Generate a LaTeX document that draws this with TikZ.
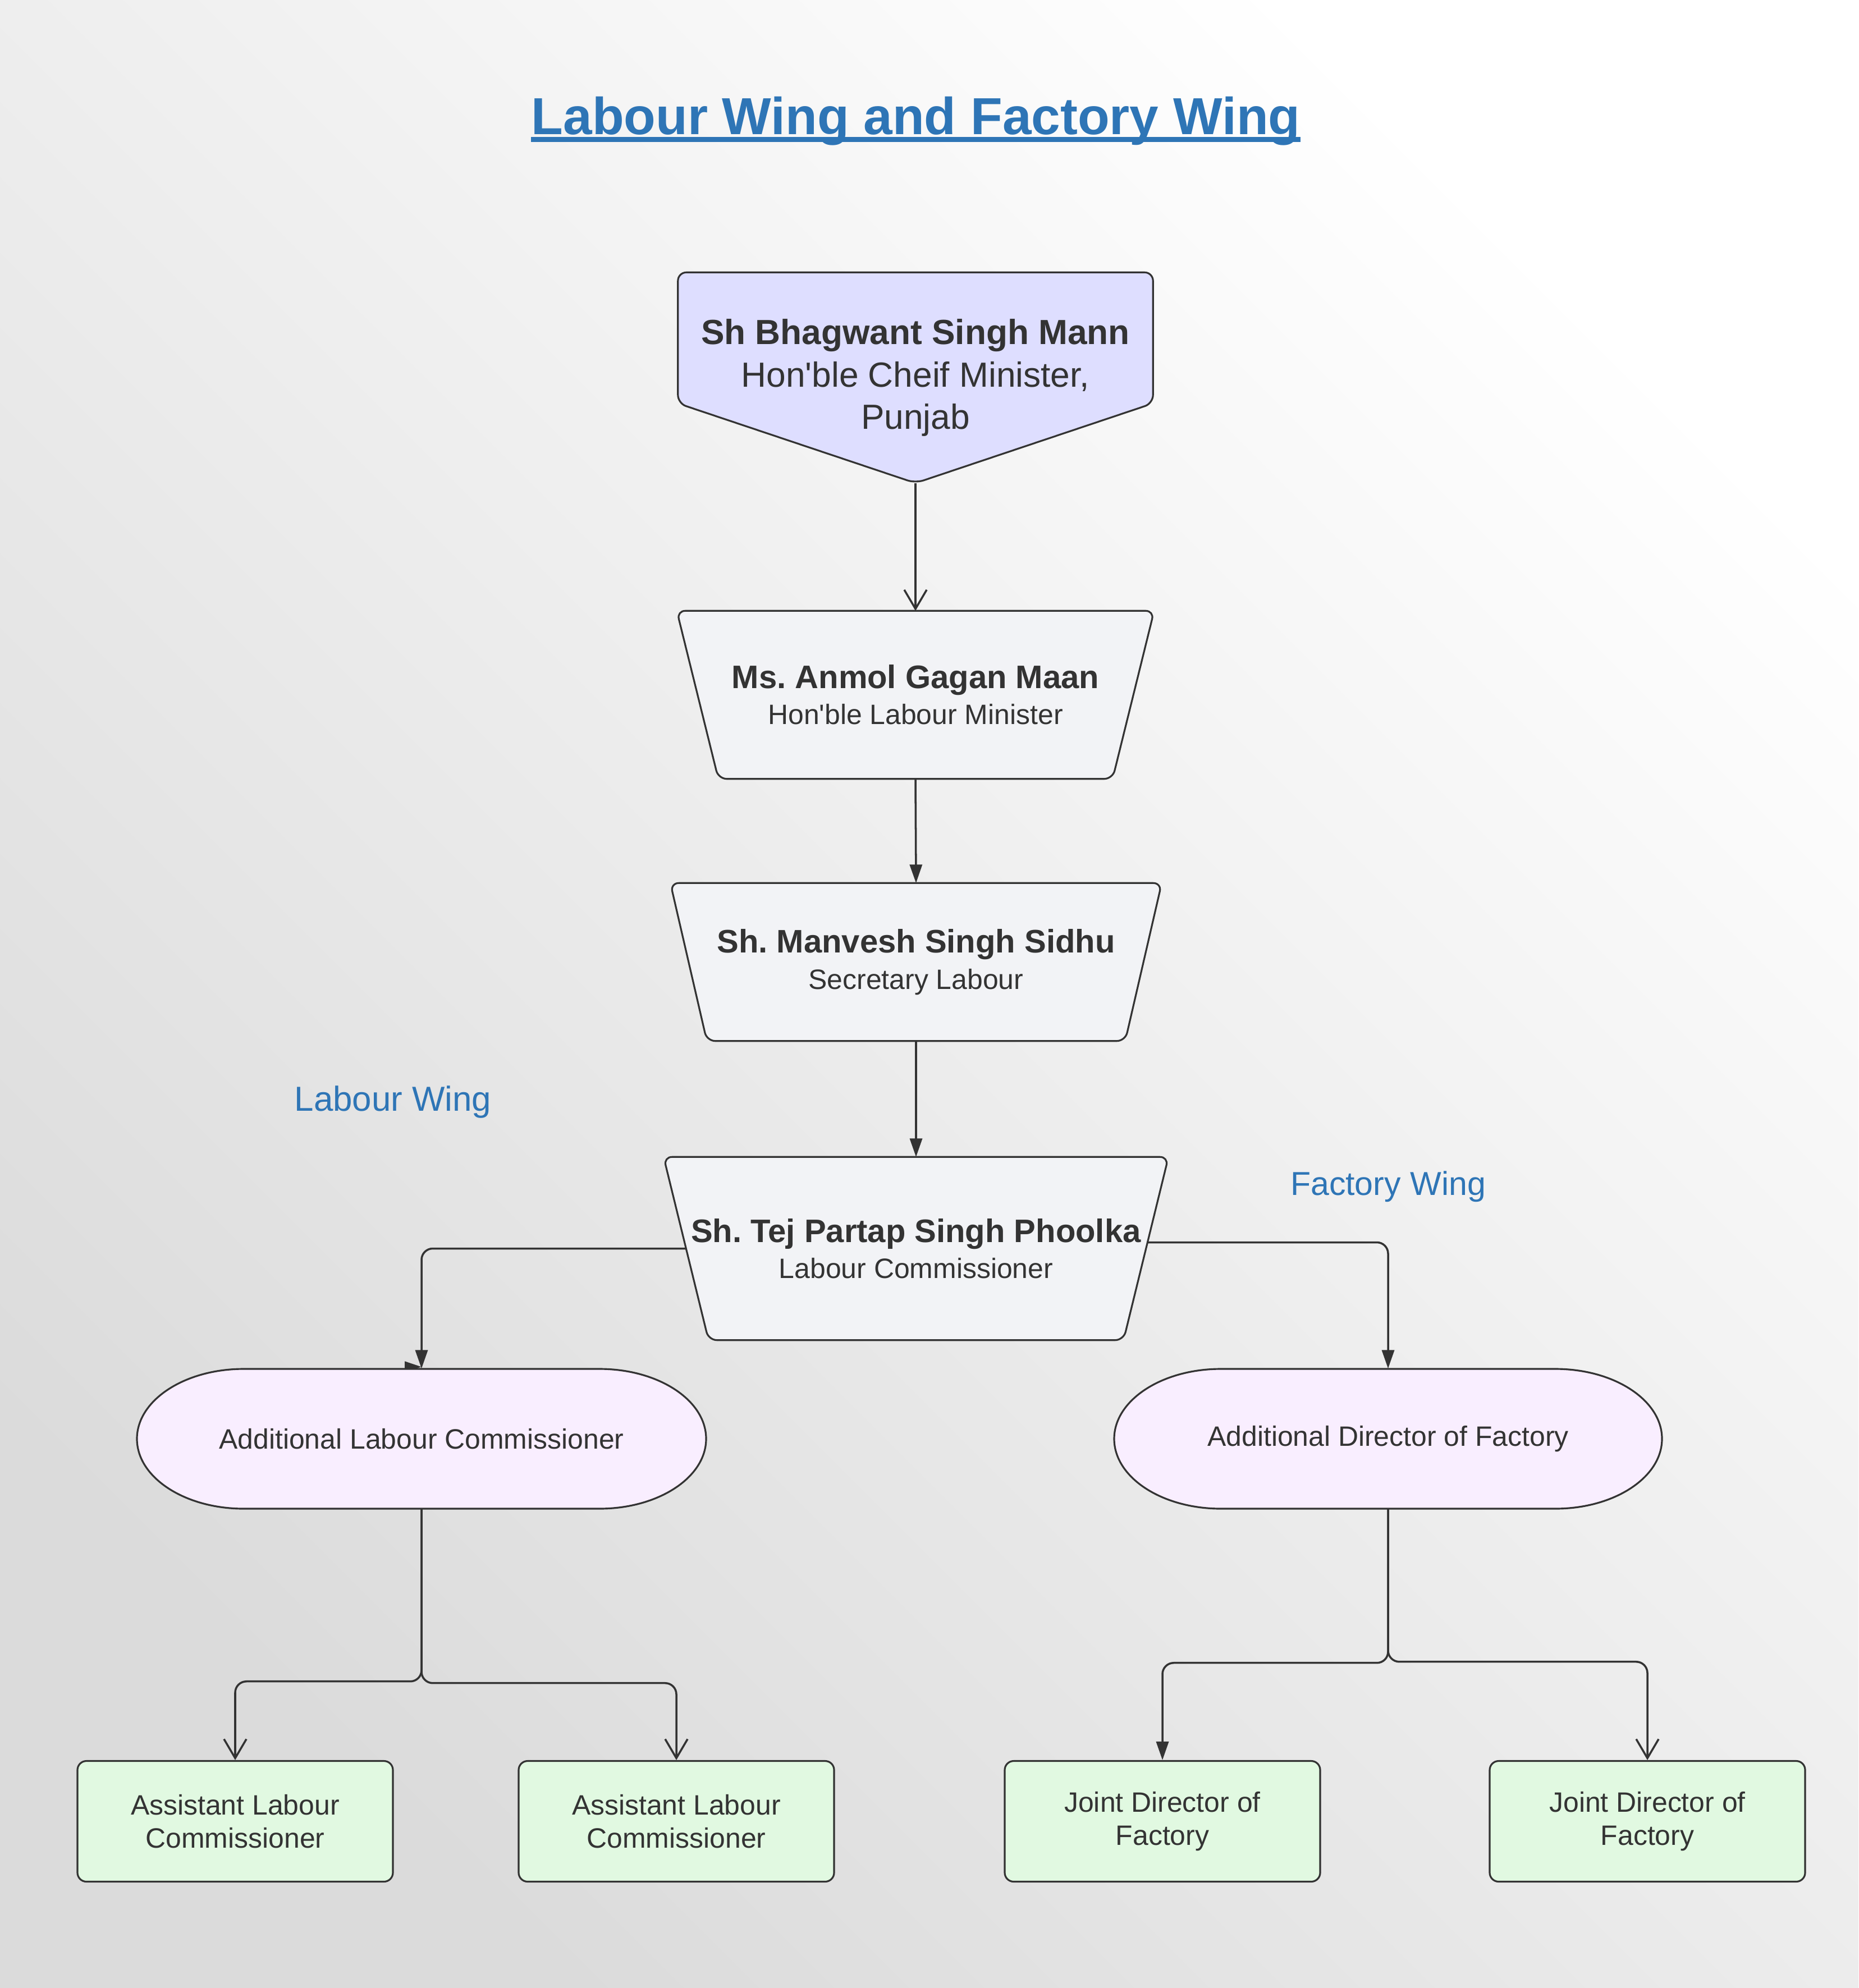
\documentclass[tikz,border=0pt]{standalone}
\usepackage{fontspec}
\setmainfont{Liberation Sans}
\usetikzlibrary{arrows.meta,calc}
\definecolor{ink}{RGB}{51,51,51}
\definecolor{wingblue}{RGB}{46,117,182}
\definecolor{cmfill}{RGB}{222,222,255}
\definecolor{trapfill}{RGB}{242,243,246}
\definecolor{termfill}{RGB}{249,238,255}
\definecolor{boxfill}{RGB}{225,249,225}
\definecolor{bgdark}{RGB}{219,219,219}
\pgfdeclarelayer{bg}\pgfdeclarelayer{edges}\pgfdeclarelayer{shapes}
\pgfsetlayers{bg,edges,shapes,main}
\frenchspacing
\newcommand{\bigfont}{\fontsize{17.7}{21.5}\selectfont}
\newcommand{\midfont}{\fontsize{16.5}{18.3}\selectfont}
\newcommand{\q}{\textquotesingle}
\tikzset{
  txt/.style={text=ink,align=center,inner sep=0pt},
  pent/.style={txt,font=\bigfont,minimum width=8.45cm,minimum height=3.74cm},
  trapn/.style={txt,font=\midfont},
  termn/.style={txt,font=\fontsize{14.2}{17}\selectfont,minimum width=#1,minimum height=2.49cm},
  rbox/.style={txt,draw=ink,fill=boxfill,line width=0.9pt,rounded corners=0.16cm,
    minimum width=5.62cm,minimum height=2.15cm,font=\fontsize{14.2}{16.8}\selectfont},
  outl/.style={draw=ink,line width=0.9pt,rounded corners=0.15cm},
  conn/.style={draw=ink,line width=1pt,rounded corners=0.2cm,-{Triangle[length=0.33cm,width=0.22cm]}},
  oconn/.style={draw=ink,line width=1pt,rounded corners=0.2cm,-{Straight Barb[length=0.34cm,width=0.4cm]}},
  wlab/.style={text=wingblue,font=\fontsize{17.6}{21}\selectfont,inner sep=0pt,anchor=base},
  hd/.style={text=wingblue,font=\bfseries\fontsize{26.4}{31}\selectfont,inner sep=0pt,anchor=base}
}
\begin{document}
\begin{tikzpicture}
  \useasboundingbox (0,0) rectangle (33.11,-35.42);
  \begin{pgfonlayer}{bg}
    \shade[shading=axis,bottom color=bgdark,top color=white,shading angle=-45] (0,0) rectangle (33.11,-35.42);
  \end{pgfonlayer}

  \node[hd] (title) at (16.315,-2.39) {Labour Wing and Factory Wing};
  \draw[wingblue,line width=0.09cm] ([yshift=-0.095cm]title.base west) -- ([yshift=-0.095cm]title.base east);

  % chain of officers
  \node[pent] (cm) at (16.31,-6.73) {\textbf{Sh Bhagwant Singh Mann}\\Hon\q ble Cheif Minister,\\Punjab};
  \node[trapn,minimum width=8.49cm,minimum height=2.98cm] (lm) at (16.31,-12.38)
    {\textbf{Ms. Anmol Gagan Maan}\\\fontsize{14.2}{17}\selectfont Hon\q ble Labour Minister};
  \node[trapn,minimum width=8.74cm,minimum height=2.80cm] (sec) at (16.32,-17.14)
    {\textbf{Sh. Manvesh Singh Sidhu}\\\fontsize{14.2}{17}\selectfont Secretary Labour};
  \node[trapn,minimum width=8.98cm,minimum height=3.25cm] (lc) at (16.32,-22.245)
    {\textbf{Sh. Tej Partap Singh Phoolka}\\\fontsize{14.2}{17}\selectfont Labour Commissioner};

  \node[wlab] (lw) at (7.0,-19.79) {Labour Wing};
  \node[wlab,font=\fontsize{16.8}{20}\selectfont] (fw) at (24.73,-21.29) {Factory Wing};

  % the two wings
  \node[termn=10.14cm] (alc) at (7.51,-25.635) {Additional Labour Commissioner};
  \node[termn=9.76cm] (adf) at (24.73,-25.635) {Additional Director of Factory};
  \node[rbox] (alc1) at (4.19,-32.45) {Assistant Labour\\Commissioner};
  \node[rbox] (alc2) at (12.05,-32.45) {Assistant Labour\\Commissioner};
  \node[rbox] (jd1) at (20.71,-32.45) {Joint Director of\\Factory};
  \node[rbox] (jd2) at (29.35,-32.45) {Joint Director of\\Factory};

  \begin{pgfonlayer}{shapes}
    \draw[outl,fill=cmfill] (cm.north west) -- (cm.north east) -- ([yshift=1.42cm]cm.south east)
      -- (cm.south) -- ([yshift=1.42cm]cm.south west) -- cycle;
    \foreach \n/\d in {lm/0.74,sec/0.65,lc/0.80}
      \draw[outl,fill=trapfill] (\n.north west) -- (\n.north east) -- ([xshift=-\d cm]\n.south east)
        -- ([xshift=\d cm]\n.south west) -- cycle;
    \foreach \n/\w in {alc/3.17,adf/2.98}
      \draw[outl,fill=termfill,sharp corners,line join=round] ([shift={(-\w,1.245)}]\n.center) -- ([shift={(\w,1.245)}]\n.center)
        arc[start angle=90,end angle=-90,x radius=1.9cm,y radius=1.245cm]
        -- ([shift={(-\w,-1.245)}]\n.center)
        arc[start angle=270,end angle=90,x radius=1.9cm,y radius=1.245cm] -- cycle;
  \end{pgfonlayer}

  \begin{pgfonlayer}{edges}
    \draw[oconn] (cm.south) -- (lm.north);
    \draw[conn] (lm.south) -- (sec.north);
    \draw[conn] (sec.south) -- (lc.north);
    \draw[conn] ([xshift=0.42cm]lc.west) -| (alc.north);
    \draw[conn] ([xshift=-0.39cm,yshift=0.11cm]lc.east) -| (adf.north);
    \draw[draw=ink,line width=1pt,-{Triangle[length=0.3cm,width=0.19cm]}] ([xshift=-0.3cm,yshift=0.03cm]alc.north) -- ([yshift=0.03cm]alc.north);
    \draw[oconn] (alc.south) -- ++(0,-3.07) -| (alc1.north);
    \draw[oconn] (alc.south) -- ++(0,-3.10) -| (alc2.north);
    \draw[conn] (adf.south) -- ++(0,-2.74) -| (jd1.north);
    \draw[oconn] (adf.south) -- ++(0,-2.72) -| (jd2.north);
  \end{pgfonlayer}
\end{tikzpicture}
\end{document}
